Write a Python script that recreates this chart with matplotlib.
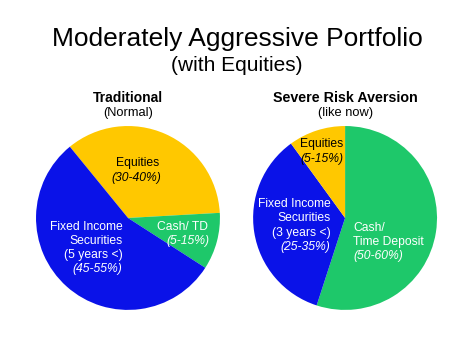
import matplotlib
matplotlib.use("Agg")
import matplotlib.pyplot as plt

plt.rcParams['font.family'] = ['Liberation Sans', 'DejaVu Sans']

# ----------------------------- data
left_labels = ['Equities', 'Cash/ TD', 'Fixed Income']
left_values = [35, 10, 55]
right_labels = ['Cash/ Time Deposit', 'Fixed Income', 'Equities']
right_values = [55, 35, 10]

yellow = '#FFC800'
green = '#1EC86A'
blue = '#0A12E8'
left_colors = [yellow, green, blue]
right_colors = [green, blue, yellow]

label_size = 8.7
# -----------------------------

fig = plt.figure(figsize=(4.74, 3.55), dpi=100)

fig.text(0.5, 0.870, 'Moderately Aggressive Portfolio', ha='center', va='baseline', fontsize=19)
fig.text(0.5, 0.800, '(with Equities)', ha='center', va='baseline', fontsize=15)

# left pie
ax1 = fig.add_axes([0.076, 0.127, 0.388, 0.518])
ax1.pie(left_values, colors=left_colors, startangle=129.2, counterclock=False,
        wedgeprops=dict(linewidth=0))
ax1.set_xlim(-1, 1)
ax1.set_ylim(-1, 1)
ax1.set_aspect('auto')
ax1.axis('off')

ax1.text(0, 1.31, 'Traditional', ha='center', va='center', fontsize=10, fontweight='bold')
ax1.text(0, 1.14, '(Normal)', ha='center', va='center', fontsize=9.3)
ax1.text(0.10, 0.60, 'Equities', ha='center', va='center', fontsize=label_size, color='black')
ax1.text(0.09, 0.44, '(30-40%)', ha='center', va='center', fontsize=label_size,
         color='black', style='italic')
for txt, y, it in [('Fixed Income', -0.10, False), ('Securities', -0.25, False),
                   ('(5 years <)', -0.40, False), ('(45-55%)', -0.55, True)]:
    ax1.text(-0.06, y, txt, ha='right', va='center', fontsize=label_size, color='white',
             style='italic' if it else 'normal')
ax1.text(0.87, -0.10, 'Cash/ TD', ha='right', va='center', fontsize=label_size, color='white')
ax1.text(0.89, -0.25, '(5-15%)', ha='right', va='center', fontsize=label_size,
         color='white', style='italic')

# right pie
ax2 = fig.add_axes([0.534, 0.127, 0.388, 0.518])
ax2.pie(right_values, colors=right_colors, startangle=90, counterclock=False,
        wedgeprops=dict(linewidth=0))
ax2.set_xlim(-1, 1)
ax2.set_ylim(-1, 1)
ax2.set_aspect('auto')
ax2.axis('off')

ax2.text(0, 1.31, 'Severe Risk Aversion', ha='center', va='center', fontsize=10.3, fontweight='bold')
ax2.text(0, 1.14, '(like now)', ha='center', va='center', fontsize=9.3)
ax2.text(-0.02, 0.80, 'Equities', ha='right', va='center', fontsize=label_size, color='black')
ax2.text(-0.02, 0.64, '(5-15%)', ha='right', va='center', fontsize=label_size,
         color='black', style='italic')
for txt, y, it in [('Fixed Income', 0.15, False), ('Securities', 0.0, False),
                   ('(3 years <)', -0.16, False), ('(25-35%)', -0.32, True)]:
    ax2.text(-0.16, y, txt, ha='right', va='center', fontsize=label_size, color='white',
             style='italic' if it else 'normal')
for txt, y, it in [('Cash/', -0.11, False), ('Time Deposit', -0.26, False),
                   ('(50-60%)', -0.41, True)]:
    ax2.text(0.09, y, txt, ha='left', va='center', fontsize=label_size, color='white',
             style='italic' if it else 'normal')

fig.savefig('out.png', dpi=100)
